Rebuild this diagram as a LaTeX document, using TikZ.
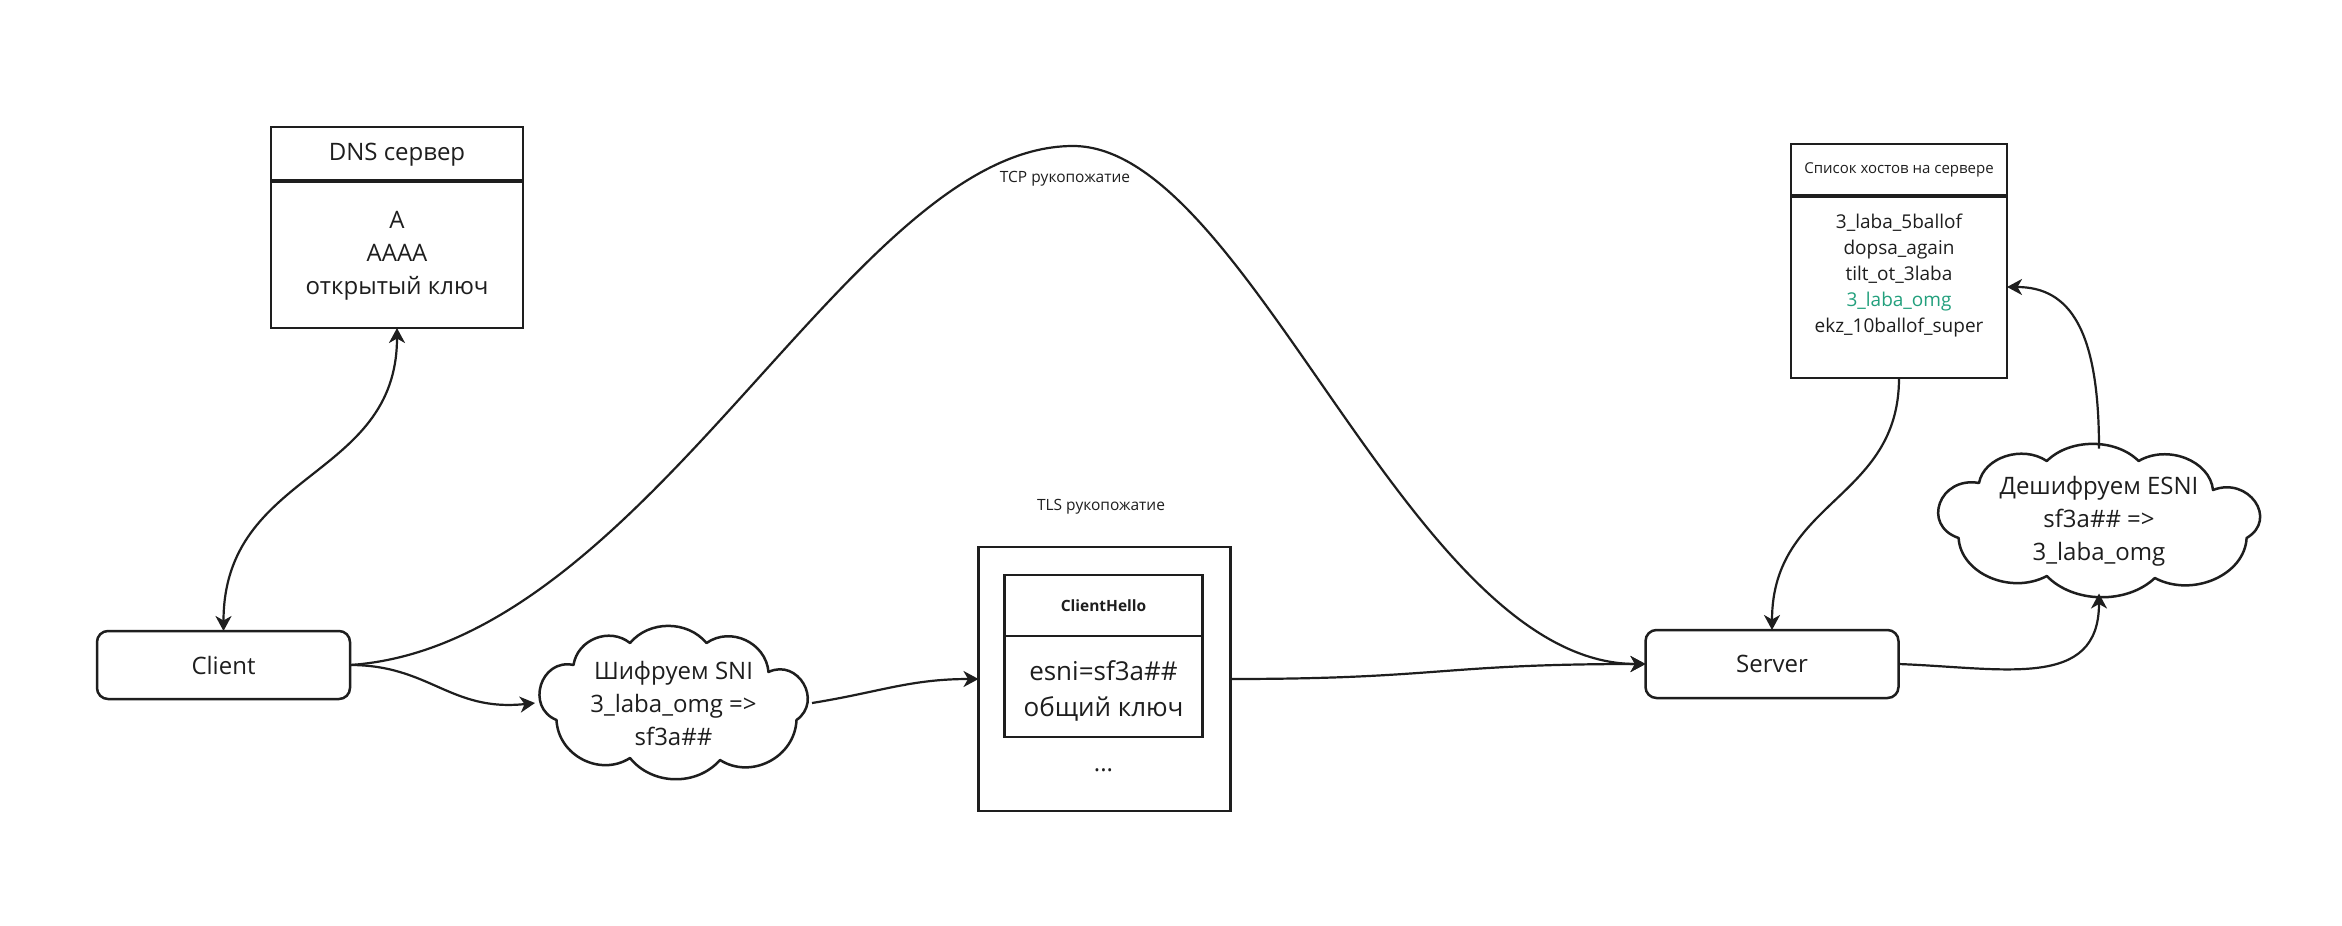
\documentclass[tikz,border=0pt]{standalone}
\usepackage{fontspec}
\setmainfont{Open Sans}
\usetikzlibrary{arrows.meta,calc}
\definecolor{ink}{HTML}{1E1E1E}
\definecolor{okgreen}{RGB}{35,160,125}
\begin{document}
\begin{tikzpicture}[x=1pt,y=-1pt,
  >={Stealth[length=15pt,width=16pt,inset=4.5pt]},
  box/.style={draw=ink,line width=2.5pt,inner sep=0pt,outer sep=0pt},
  rbox/.style={box,rounded corners=11pt,minimum width=253pt,minimum height=68pt,text=ink,font=\fontsize{24}{30}\selectfont},
  txt/.style={text=ink,inner sep=0pt,align=center},
  big/.style={font=\fontsize{24}{33}\selectfont},
  small/.style={font=\fontsize{15.5}{18}\selectfont},
  conn/.style={draw=ink,line width=2.2pt},
  cloudarea/.style={txt,big,outer sep=0pt},
  divider/.style={draw=ink,line width=4.5pt},
  cloudoutline/.pic={
    \draw[ink,line width=2.5pt,line join=round]
      (-117,17) to[bend left=85,looseness=1.5] (-100,-38)
      to[bend left=60,looseness=1.1] (-43.5,-60)
      to[bend left=50] (33,-60)
      to[bend left=60,looseness=1.1] (95,-31)
      to[bend left=85,looseness=1.5] (123,17)
      to[bend left=60,looseness=1.1] (46.5,57)
      to[bend left=50] (-43.5,55)
      to[bend left=60,looseness=1.1] (-117,17) -- cycle;
  },
]
\useasboundingbox[fill=white] (0,0) rectangle (2342,926);

% Client and Server
\node[rbox] (client) at (223.5,665) {Client};
\node[rbox] (server) at (1772,664) {Server};

% DNS server
\node[box,minimum width=252pt,minimum height=201pt] (dns) at (397,227.5) {};
\draw[divider] (dns.west |- 0,181) -- (dns.east |- 0,181);
\node[txt,big] (dnshead) at (397,155) {DNS сервер};
\node[txt,big] (dnsbody) at (397,256) {A\\AAAA\\открытый ключ};

% hosts list
\node[box,minimum width=216pt,minimum height=234pt] (hosts) at (1899,261) {};
\draw[divider] (hosts.west |- 0,196) -- (hosts.east |- 0,196);
\node[txt,font=\fontsize{15}{18}\selectfont] (hostshead) at (1899,170) {Список хостов на сервере};
\node[txt,font=\fontsize{19}{26}\selectfont] (hostsbody) at (1899,276) {3\_laba\_5ballof\\dopsa\_again\\tilt\_ot\_3laba\\\textcolor{okgreen}{3\_laba\_omg}\\ekz\_10ballof\_super};

% TLS handshake
\node[txt,small] (tlslabel) at (1101,507) {TLS рукопожатие};
\node[box,minimum width=252pt,minimum height=264pt] (tls) at (1104.5,679) {};
\node[box,minimum width=198pt,minimum height=162pt] (hello) at (1103.5,656) {};
\draw[box] (hello.west |- 0,636) -- (hello.east |- 0,636);
\node[txt,font=\bfseries\fontsize{15.5}{18}\selectfont] (hellohead) at (1103.5,606) {ClientHello};
\node[txt,font=\fontsize{26}{36}\selectfont] (hellobody) at (1103.5,691) {esni=sf3a\#\#\\общий ключ};
\node[txt,big] (dots) at (1103.5,770) {...};

% TCP label
\node[txt,small] (tcplabel) at (1065,179) {TCP рукопожатие};
\coordinate (tcptop) at (1073,146);

% clouds
\pic at (673.5,703) {cloudoutline};
\node[cloudarea,minimum width=277pt,minimum height=146pt] (cloud1) at (673.5,703) {Шифруем SNI\\3\_laba\_omg =>\\sf3a\#\#};
\pic[xscale=1.2] at (2099,521) {cloudoutline};
\node[cloudarea,minimum width=332pt,minimum height=145pt] (cloud2) at (2099,521) {Дешифруем ESNI\\sf3a\#\# =>\\3\_laba\_omg};

% connectors
\draw[conn,<->] (dns.south) .. controls (397,480) and (223.5,470) .. (client.north);
\draw[conn,->] (client.east) .. controls (430,665) and (450,712) .. (cloud1.west);
\draw[conn,->] (client.east) .. controls (650,645) and (850,146) .. (tcptop)
  .. controls (1250,146) and (1410,664) .. (server.west);
\draw[conn,->] (cloud1.east) .. controls (880,692) and (910,679) .. (tls.west);
\draw[conn,->] (tls.east) .. controls (1440,679) and (1440,664) .. (server.west);
\draw[conn,->] (hosts.south) .. controls (1899,500) and (1772,500) .. (server.north);
\draw[conn,->] (server.east) .. controls (2005,668) and (2099,690) .. (cloud2.south);
\draw[conn,->] (cloud2.north) .. controls (2099,330) and (2070,287) .. ($(hosts.east)+(0,26)$);
\end{tikzpicture}
\end{document}
